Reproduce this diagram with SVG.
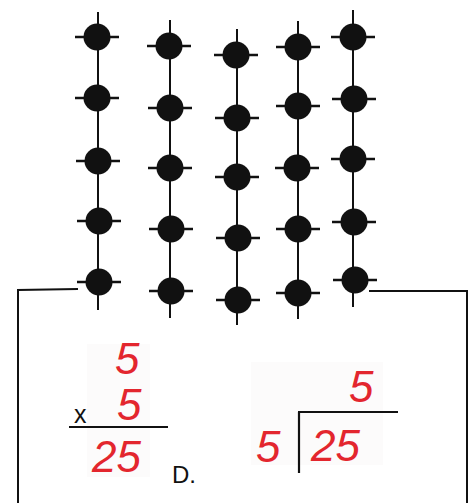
<svg xmlns="http://www.w3.org/2000/svg" width="474" height="503" viewBox="0 0 474 503">
<style>
.conn line,.conn polyline{stroke:#111;stroke-width:2;fill:none}
.red{font-family:"Liberation Sans",Arial,sans-serif;fill:#e3262e;font-style:italic;font-size:44px}
.blk{font-family:"Liberation Sans",Arial,sans-serif;fill:#111}
.bg{fill:#fcfbfb}
</style>
<defs>
<g id="d"><line x1="-22" y1="0" x2="22" y2="0" stroke="#111" stroke-width="2.4"/><circle r="13.5" fill="#111"/></g>
</defs>
<g class="conn">
<line x1="98" y1="12" x2="98" y2="310"/>
<line x1="170" y1="20" x2="170" y2="318"/>
<line x1="237" y1="29" x2="237" y2="325"/>
<line x1="298" y1="21" x2="298" y2="319"/>
<line x1="353" y1="10" x2="353" y2="307"/>
<polyline points="78,289 18,290 18,503"/>
<polyline points="369,291 467,291 467,503"/>
</g>
<g id="c1" class="dot">
<use href="#d" x="97" y="37"/><use href="#d" x="97" y="98"/><use href="#d" x="98" y="161"/><use href="#d" x="99" y="221"/><use href="#d" x="99" y="282"/>
</g>
<g id="c2" class="dot">
<use href="#d" x="169" y="46"/><use href="#d" x="170" y="108"/><use href="#d" x="170" y="168"/><use href="#d" x="171" y="229"/><use href="#d" x="171" y="291"/>
</g>
<g id="c3" class="dot">
<use href="#d" x="236" y="55"/><use href="#d" x="237" y="118"/><use href="#d" x="237" y="177"/><use href="#d" x="238" y="238"/><use href="#d" x="238" y="300"/>
</g>
<g id="c4" class="dot">
<use href="#d" x="298" y="47"/><use href="#d" x="298" y="106"/><use href="#d" x="297" y="168"/><use href="#d" x="298" y="229"/><use href="#d" x="298" y="293"/>
</g>
<g id="c5" class="dot">
<use href="#d" x="353" y="37"/><use href="#d" x="354" y="99"/><use href="#d" x="353" y="159"/><use href="#d" x="354" y="222"/><use href="#d" x="355" y="280"/>
</g>
<g id="multiplication">
<rect class="bg" x="87" y="344" width="63" height="133"/>
<text class="red" x="115" y="374" font-size="38">5</text>
<text class="red" x="117" y="420" font-size="36">5</text>
<text class="blk" x="74" y="423" font-size="25">x</text>
<line x1="69" y1="427" x2="168" y2="427" stroke="#111" stroke-width="2"/>
<text class="red" x="92" y="472" font-size="46">25</text>
<text class="blk" x="172" y="483" font-size="24">D.</text>
</g>
<g id="division">
<rect class="bg" x="251" y="362" width="132" height="103"/>
<text class="red" x="349" y="402">5</text>
<line x1="298" y1="412" x2="398" y2="412" stroke="#111" stroke-width="2.2"/>
<line x1="299" y1="412" x2="299" y2="473" stroke="#111" stroke-width="2.2"/>
<text class="red" x="256" y="462">5</text>
<text class="red" x="311" y="461">25</text>
</g>
</svg>
